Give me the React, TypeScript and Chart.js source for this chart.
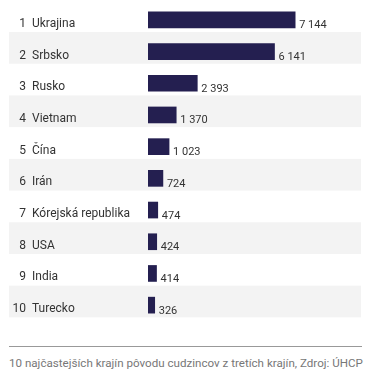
import React, { useEffect, useRef } from "react";
import { Chart, registerables } from "chart.js";

Chart.register(...registerables);

const ranks = ["1", "2", "3", "4", "5", "6", "7", "8", "9", "10"];
const countries = ["Ukrajina", "Srbsko", "Rusko", "Vietnam", "Čína", "Irán", "Kórejská republika", "USA", "India", "Turecko"];
const values = [7144, 6141, 2393, 1370, 1023, 724, 474, 424, 414, 326];
const valueLabels = ["7 144", "6 141", "2 393", "1 370", "1 023", "724", "474", "424", "414", "326"];
const caption = "10 najčastejších krajín pôvodu cudzincov z tretích krajín, Zdroj: ÚHCP";

const FONT = "Roboto, 'Noto Sans', sans-serif";

const decorPlugin = {
  id: "decor",
  beforeDatasetsDraw(chart: any) {
    const { ctx } = chart;
    const y = chart.scales.y;
    const step = y.getPixelForValue(1) - y.getPixelForValue(0);
    ctx.save();
    ctx.fillStyle = "#f3f3f3";
    for (let i = 1; i < countries.length; i += 2) {
      const c = y.getPixelForValue(i);
      ctx.fillRect(9, c - 19.5, 352, step);
    }
    ctx.restore();
  },
  afterDatasetsDraw(chart: any) {
    const { ctx } = chart;
    const y = chart.scales.y;
    const x = chart.scales.x;
    ctx.save();
    ctx.fillStyle = "#333333";
    ctx.textBaseline = "alphabetic";
    ctx.font = `12px ${FONT}`;
    for (let i = 0; i < countries.length; i++) {
      const c = y.getPixelForValue(i);
      ctx.textAlign = "right";
      ctx.fillText(ranks[i], 26, c + 7);
      ctx.textAlign = "left";
      ctx.fillText(countries[i], 32, c + 7);
    }
    ctx.font = `11px ${FONT}`;
    ctx.textAlign = "left";
    for (let i = 0; i < values.length; i++) {
      const c = y.getPixelForValue(i);
      const xe = x.getPixelForValue(values[i]);
      ctx.fillText(valueLabels[i], xe + 4, c + 8.5);
    }
    ctx.restore();
  },
};

export default function App() {
  const ref = useRef<HTMLCanvasElement>(null);
  useEffect(() => {
    if (!ref.current) return;
    const chart = new Chart(ref.current, {
      type: "bar",
      data: {
        labels: countries,
        datasets: [
          {
            data: values,
            backgroundColor: "#241f50",
            barThickness: 16,
          },
        ],
      },
      options: {
        indexAxis: "y",
        animation: false,
        responsive: true,
        maintainAspectRatio: false,
        layout: { padding: { left: 148, right: 31, top: 4, bottom: 9 } },
        plugins: { legend: { display: false }, tooltip: { enabled: false } },
        scales: {
          x: { display: false, min: 0, max: 10000, grid: { display: false } },
          y: { display: false, offset: true, grid: { display: false } },
        },
      },
      plugins: [decorPlugin],
    });
    return () => chart.destroy();
  }, []);

  return (
    <div style={{ position: "fixed", left: 0, top: 0, width: 385, height: 392, background: "#fff", overflow: "hidden" }}>
      <div style={{ position: "absolute", left: 0, top: 0, width: 385, height: 330 }}>
        <canvas ref={ref} />
      </div>
      <div style={{ position: "absolute", left: 9, top: 346, width: 353, height: 1, background: "#999" }} />
      <div
        style={{
          position: "absolute",
          left: 9,
          top: 356,
          fontFamily: FONT,
          fontSize: 11.6,
          lineHeight: "14px",
          color: "#777",
          whiteSpace: "nowrap",
        }}
      >
        {caption}
      </div>
    </div>
  );
}
